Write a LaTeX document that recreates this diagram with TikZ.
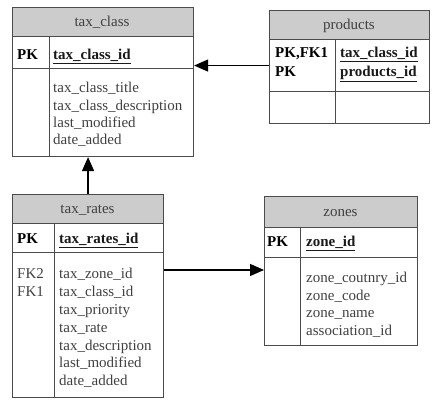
\documentclass[tikz,border=0pt]{standalone}
\usepackage{fontspec}
\setmainfont{Liberation Serif}
\usetikzlibrary{arrows.meta}

\begin{document}
\begin{tikzpicture}[x=1pt, y=-1pt,
  cell/.style={draw=black!70, line width=1.1pt, inner sep=0pt, anchor=north west},
  head/.style={cell, fill=black!20},
  fld/.style={inner sep=0pt, anchor=base west, text=black!75, font=\fontsize{15}{17.5}\selectfont},
  keyfld/.style={fld, text=black!90},
  pk/.style={fld, text=black, font=\fontsize{15}{17.5}\selectfont\bfseries},
  title/.style={fld, anchor=base},
  link/.style={line width=1.4pt, -{Triangle[length=14pt,width=12pt]}}]
\useasboundingbox (0,0) rectangle (440,403);
%%%%% tax_class %%%%%
\node[head, minimum width=181pt, minimum height=29pt] (tchead) at (12,7) {};
\node[cell, minimum width=37pt, minimum height=32pt] (tckeyl) at (12,36) {};
\node[cell, minimum width=144pt, minimum height=32pt] (tckeyr) at (49,36) {};
\node[cell, minimum width=37pt, minimum height=88pt] (tcbodyl) at (12,68) {};
\node[cell, minimum width=144pt, minimum height=88pt] (tcbodyr) at (49,68) {};
\node[title] (tctitle) at (102,27) {tax\_class};
\node[pk] (tcpk) at (17,60) {PK};
\node[keyfld] (tcid) at (53,60) {\underline{\textbf{tax\_class\_id}}};
\foreach \t [count=\i] in {tax\_class\_title, tax\_class\_description, last\_modified, date\_added}{
\node[fld] (tc\i) at (53,{93+(\i-1)*17.2}) {\t};
}
%%%%% products %%%%%
\node[head, minimum width=160pt, minimum height=29pt] (prodhead) at (269,10) {};
\node[cell, minimum width=66pt, minimum height=52pt] (prodkeyl) at (269,39) {};
\node[cell, minimum width=94pt, minimum height=52pt] (prodkeyr) at (335,39) {};
\node[cell, minimum width=66pt, minimum height=32pt] (prodbodyl) at (269,91) {};
\node[cell, minimum width=94pt, minimum height=32pt] (prodbodyr) at (335,91) {};
\node[title] (prodtitle) at (349,29.5) {products};
\node[pk] (prodpk1) at (275,58) {PK,FK1};
\node[pk] (prodpk2) at (275,76.5) {PK};
\node[keyfld] (prodid1) at (340,58) {\underline{\textbf{tax\_class\_id}}};
\node[keyfld] (prodid2) at (340,76.5) {\underline{\textbf{products\_id}}};
%%%%% tax_rates %%%%%
\node[head, minimum width=151pt, minimum height=29pt] (trhead) at (12,194) {};
\node[cell, minimum width=42pt, minimum height=29pt] (trkeyl) at (12,223) {};
\node[cell, minimum width=109pt, minimum height=29pt] (trkeyr) at (54,223) {};
\node[cell, minimum width=42pt, minimum height=145pt] (trbodyl) at (12,252) {};
\node[cell, minimum width=109pt, minimum height=145pt] (trbodyr) at (54,252) {};
\node[title] (trtitle) at (87.5,214) {tax\_rates};
\node[pk] (trpk) at (17,244) {PK};
\node[keyfld] (trid) at (59,244) {\underline{\textbf{tax\_rates\_id}}};
\node[fld] (trfk2) at (17,279) {FK2};
\node[fld] (trfk1) at (17,296.8) {FK1};
\foreach \t [count=\i] in {tax\_zone\_id, tax\_class\_id, tax\_priority, tax\_rate, tax\_description, last\_modified, date\_added}{
\node[fld] (tr\i) at (59,{279+(\i-1)*17.8}) {\t};
}
%%%%% zones %%%%%
\node[head, minimum width=153pt, minimum height=31pt] (znhead) at (264,196) {};
\node[cell, minimum width=36pt, minimum height=30pt] (znkeyl) at (264,227) {};
\node[cell, minimum width=117pt, minimum height=30pt] (znkeyr) at (300,227) {};
\node[cell, minimum width=36pt, minimum height=88pt] (znbodyl) at (264,257) {};
\node[cell, minimum width=117pt, minimum height=88pt] (znbodyr) at (300,257) {};
\node[title] (zntitle) at (340.5,217) {zones};
\node[pk] (znpk) at (267,247) {PK};
\node[keyfld] (znid) at (306,247) {\underline{\textbf{zone\_id}}};
\foreach \t [count=\i] in {zone\_coutnry\_id, zone\_code, zone\_name, association\_id}{
\node[fld] (zn\i) at (306,{283+(\i-1)*17.5}) {\t};
}
%%%%% links %%%%%
\coordinate (trout) at ([yshift=-18pt]trbodyr.north east);
\draw[link] (prodkeyl.west) -- (prodkeyl.west -| tckeyr.east);
\draw[link] (trhead.north) -- (trhead.north |- tcbodyl.south);
\draw[link] (trout) -- (trout -| znbodyl.west);
\end{tikzpicture}
\end{document}
